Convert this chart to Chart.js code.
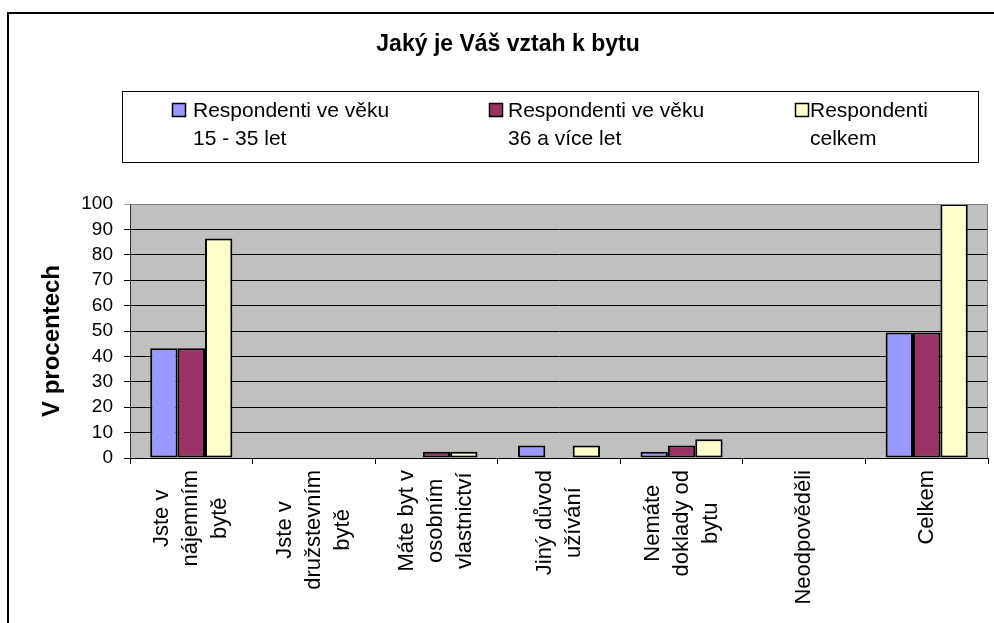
<!DOCTYPE html>
<html>
<head>
<meta charset="utf-8">
<script src="https://cdn.jsdelivr.net/npm/chart.js@4/dist/chart.umd.min.js"></script>
<style>
  html, body { margin: 0; padding: 0; background: #fff; }
  #wrap { width: 994px; height: 623px; position: relative; }
</style>
</head>
<body>
<div id="wrap"><canvas id="c" width="994" height="623"></canvas></div>
<script>
const chartTitle = 'Jaký je Váš vztah k bytu';
const yAxisTitle = 'V procentech';
const categories = [
  ['Jste v', 'nájemním', 'bytě'],
  ['Jste v', 'družstevním', 'bytě'],
  ['Máte byt v', 'osobním', 'vlastnictví'],
  ['Jiný důvod', 'užívání'],
  ['Nemáte', 'doklady od', 'bytu'],
  ['Neodpověděli'],
  ['Celkem']
];
const seriesNames = [
  ['Respondenti ve věku', '15 - 35 let'],
  ['Respondenti ve věku', '36 a více let'],
  ['Respondenti', 'celkem']
];
const young = [43.2, 0, 0, 4.9, 2.5, 0, 49.4];
const older = [43.2, 0, 2.5, 0, 4.9, 0, 49.4];
const total = [86.4, 0, 2.5, 4.9, 7.4, 0, 100];
const yTicks = [0, 10, 20, 30, 40, 50, 60, 70, 80, 90, 100];
const colors = ['#9999FF', '#993366', '#FFFFCC'];

const FONT = '"Liberation Sans", Arial, sans-serif';

const decorPlugin = {
  id: 'decor',
  beforeDraw(chart) {
    const { ctx, chartArea: a } = chart;
    ctx.save();
    ctx.fillStyle = '#fff';
    ctx.fillRect(0, 0, chart.width, chart.height);
    ctx.strokeStyle = '#000';
    ctx.lineWidth = 2;
    ctx.strokeRect(8, 13, 1100, 800);
    ctx.fillStyle = '#C0C0C0';
    ctx.fillRect(a.left, a.top, a.right - a.left, a.bottom - a.top);
    ctx.restore();
  },
  afterDraw(chart) {
    const { ctx, chartArea: a } = chart;
    ctx.save();
    ctx.strokeStyle = '#808080';
    ctx.lineWidth = 1;
    ctx.beginPath();
    ctx.moveTo(a.left, a.top + 0.5);
    ctx.lineTo(a.right - 0.5, a.top + 0.5);
    ctx.lineTo(a.right - 0.5, a.bottom);
    ctx.stroke();

    ctx.fillStyle = '#000';
    ctx.font = 'bold 23px ' + FONT;
    ctx.textAlign = 'center';
    ctx.textBaseline = 'middle';
    ctx.fillText(chartTitle, 508, 45);

    ctx.strokeStyle = '#000';
    ctx.lineWidth = 1;
    ctx.strokeRect(122.5, 91.5, 856, 71);
    const sqX = [172, 489, 795];
    const txX = [193, 508, 810];
    ctx.font = '21px ' + FONT;
    ctx.textAlign = 'left';
    for (let i = 0; i < seriesNames.length; i++) {
      ctx.fillStyle = colors[i];
      ctx.fillRect(sqX[i], 103, 14, 14);
      ctx.strokeStyle = '#000';
      ctx.lineWidth = 1.5;
      ctx.strokeRect(sqX[i] + 0.5, 103.5, 13, 13);
      ctx.fillStyle = '#000';
      seriesNames[i].forEach((line, j) => ctx.fillText(line, txX[i], 111 + j * 28));
    }

    ctx.save();
    ctx.translate(52, 341);
    ctx.rotate(-Math.PI / 2);
    ctx.font = 'bold 24px ' + FONT;
    ctx.textAlign = 'center';
    ctx.textBaseline = 'middle';
    ctx.fillText(yAxisTitle, 0, 0);
    ctx.restore();

    const xs = chart.scales.x;
    ctx.font = '22px ' + FONT;
    const lh = 29;
    const top = 470;
    categories.forEach((lines, i) => {
      const cx = xs.getPixelForValue(i);
      const maxW = Math.max(...lines.map(l => ctx.measureText(l).width));
      lines.forEach((line, j) => {
        const px = cx + (j - (lines.length - 1) / 2) * lh;
        ctx.save();
        ctx.translate(px, top + maxW / 2);
        ctx.rotate(-Math.PI / 2);
        ctx.textAlign = 'center';
        ctx.textBaseline = 'middle';
        ctx.fillText(line, 0, 0);
        ctx.restore();
      });
    });
    ctx.restore();
  }
};

new Chart(document.getElementById('c'), {
  type: 'bar',
  data: {
    labels: categories.map(c => c.join(' ')),
    datasets: [
      { label: seriesNames[0].join(' '), data: young, backgroundColor: colors[0] },
      { label: seriesNames[1].join(' '), data: older, backgroundColor: colors[1] },
      { label: seriesNames[2].join(' '), data: total, backgroundColor: colors[2] }
    ].map(d => Object.assign(d, {
      borderColor: '#000', borderWidth: 2, borderSkipped: false,
      categoryPercentage: 0.67, barPercentage: 1.0
    }))
  },
  options: {
    responsive: false,
    animation: false,
    events: [],
    layout: { padding: { left: 0, top: 204, right: 6, bottom: 155 } },
    plugins: { legend: { display: false }, title: { display: false }, tooltip: { enabled: false } },
    scales: {
      x: {
        offset: true,
        afterFit(s) { s.height = 10; },
        ticks: { display: false },
        grid: {
          offset: true, drawOnChartArea: false, drawTicks: true, tickLength: 6,
          color: '#000', lineWidth: 1
        },
        border: { color: '#000', width: 1 }
      },
      y: {
        min: 0, max: 100,
        afterFit(s) { s.width = 130; },
        afterBuildTicks(s) { s.ticks = yTicks.map(v => ({ value: v })); },
        ticks: { color: '#000', font: { family: FONT, size: 19 }, padding: 11, autoSkip: false, stepSize: 10 },
        grid: {
          tickLength: 6, lineWidth: 1,
          color: ctx => (ctx.tick && ctx.tick.value === 100) ? '#A0A0A0' : '#000'
        },
        border: { color: '#333', width: 1 }
      }
    }
  },
  plugins: [decorPlugin]
});
</script>
</body>
</html>
